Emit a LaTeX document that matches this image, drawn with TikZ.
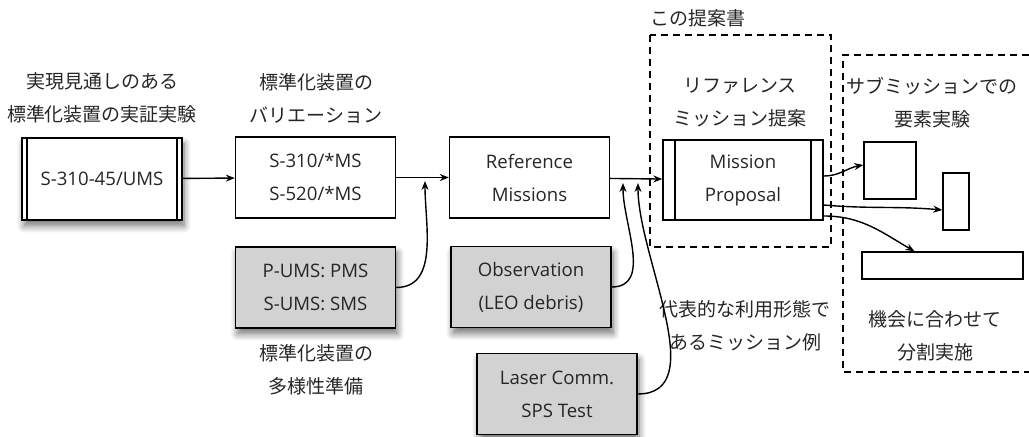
\documentclass[tikz,border=0pt]{standalone}
\usepackage{fontspec}
\setmainfont{Noto Sans CJK JP}
\newfontfamily\latin{Open Sans}
\usetikzlibrary{arrows.meta,shadows.blur}

\begin{document}
\begin{tikzpicture}[x=0.5pt,y=-0.5pt,font=\fontsize{9.5}{16.5}\selectfont,text=black!85]
\tikzset{box/.style = {draw, line width=0.7pt, minimum width=80pt, minimum height=40.5pt, align=center, inner sep=0pt, font=\latin\fontsize{9.3}{16.5}\selectfont},
  soft/.style = {blur shadow={shadow blur steps=8, shadow blur radius=3.5pt, shadow xshift=1pt, shadow yshift=-3pt, shadow opacity=55}},
  grey/.style = {box, fill=gray!35, soft},
  sidebars/.style = {path picture={\draw[line width=0.7pt] ([xshift=#1]path picture bounding box.north west) -- ([xshift=#1]path picture bounding box.south west)
    ([xshift=-#1]path picture bounding box.north east) -- ([xshift=-#1]path picture bounding box.south east);}},
  frame/.style = {line width=0.8pt, dash pattern=on 3.5pt off 2.5pt},
  link/.style = {line width=0.7pt, -{Stealth[length=4.5pt,width=3.5pt]}},
  note/.style = {align=center}}
\useasboundingbox (0,0) rectangle (1029,437);

% main chain
\node[box, fill=white, sidebars=2.5pt, minimum height=41pt, soft] (ums) at (102,179) {S-310-45/UMS};
\node[box] (var) at (315.5,177.5) {S-310/*MS\\S-520/*MS};
\node[box] (ref) at (529.5,177.5) {Reference\\Missions};
\node[box, sidebars=6pt, minimum height=40pt] (mp) at (743,180) {Mission\\Proposal};
\node[grey] (pums) at (315.5,287.5) {P-UMS: PMS\\S-UMS: SMS};
\node[grey] (obs) at (531,287) {Observation\\(LEO debris)};
\node[grey] (laser) at (557,394) {Laser Comm.\\SPS Test};

% element experiments
\node[draw, line width=0.7pt, minimum width=26pt, minimum height=28.5pt] (ea) at (890,170.5) {};
\node[draw, line width=0.7pt, minimum width=13pt, minimum height=28.5pt] (eb) at (956,201.5) {};
\node[draw, line width=0.7pt, minimum width=80.5pt, minimum height=13.5pt] (ec) at (942.5,265.5) {};

% labels
\node[note] (l1) at (102,97.5) {実現見通しのある\\標準化装置の実証実験};
\node[note] (l2) at (316,98.5) {標準化装置の\\バリエーション};
\node[note] (l3) at (316,370) {標準化装置の\\多様性準備};
\node[note] (l4) at (698,18) {この提案書};
\node[note] (l5) at (740,102.5) {リファレンス\\ミッション提案};
\node[note] (l6) at (745,326) {代表的な利用形態で\\あるミッション例};
\node[note] (l7) at (932,103) {サブミッションでの\\要素実験};
\node[note] (l8) at (935,336) {機会に合わせて\\分割実施};

% frames
\draw[frame] (650,35) rectangle (831,247);
\draw[frame] (1029,55) -- (843,55) -- (843,372) -- (1029,372);

% connectors
\coordinate (j1) at (425,181); \coordinate (j2) at (623,183); \coordinate (j3) at (638,183);
\draw[link] (ums) -- (var); \draw[link] (var) -- (ref); \draw[link] (ref) -- (mp);
\draw[link] (pums.east) to[out=0,in=-90] (j1);
\draw[link] (obs.east) to[out=0,in=-90] (j2);
\draw[link] (laser.east) to[out=0,in=-90,looseness=0.9] (j3);
\draw[link] ([yshift=2pt]mp.east) to[out=0,in=190] ([yshift=2.75pt]ea.west);
\draw[link] ([yshift=-12.5pt]mp.east) to[out=-5,in=175] ([yshift=-4.25pt]eb.west);
\draw[link] ([yshift=-18pt]mp.east) to[out=0,in=150] ([xshift=-14pt]ec.north);
\end{tikzpicture}
\end{document}
